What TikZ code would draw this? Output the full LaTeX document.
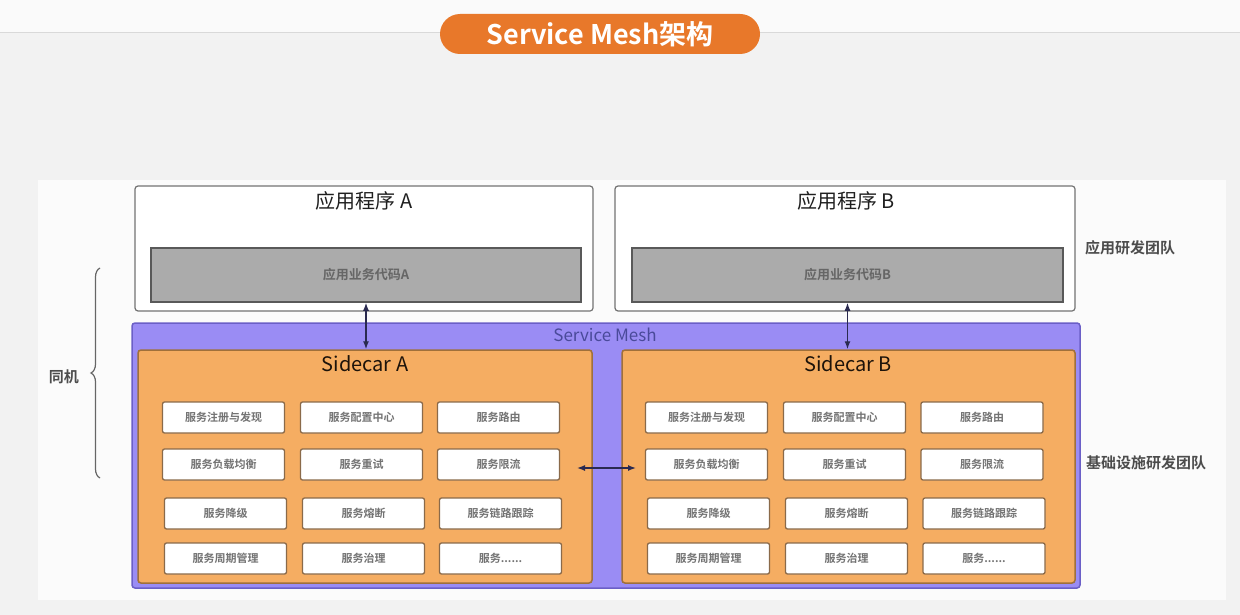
\documentclass[tikz,border=0pt]{standalone}
\usepackage{fontspec}
\setmainfont{Noto Sans CJK SC}[BoldFont={Noto Sans CJK SC Bold}]
\usetikzlibrary{arrows.meta,decorations.pathreplacing}
\definecolor{bgray}{HTML}{F2F2F2}
\definecolor{titleor}{HTML}{E8782A}
\definecolor{meshfill}{HTML}{9A8CF4}
\definecolor{meshdraw}{HTML}{6B5FC7}
\definecolor{carfill}{HTML}{F5AD62}
\definecolor{cardraw}{HTML}{A0703A}
\definecolor{codegray}{HTML}{ABABAB}
\definecolor{svcdraw}{HTML}{8A6A4A}
\definecolor{arrcol}{HTML}{2A2A50}
\definecolor{meshtext}{HTML}{4A4A9A}
\newcommand\svcmoretext{服务.\kern0pt.\kern0pt.\kern0pt.\kern0pt.\kern0pt.}
\begin{document}
\begin{tikzpicture}[x=1pt,y=-1pt,
  appbox/.style={draw=black!55, fill=white, rounded corners=3pt, line width=1.2pt, inner sep=0pt},
  codebox/.style={draw=black!65, fill=codegray, line width=1.5pt, inner sep=0pt, font=\bfseries\fontsize{13}{15}\selectfont, text=black!60},
  apptitle/.style={font=\fontsize{20}{22}\selectfont, text=black!88, inner sep=0pt},
  meshbox/.style={draw=meshdraw, fill=meshfill, rounded corners=3pt, line width=1.5pt, inner sep=0pt},
  carbox/.style={draw=cardraw, fill=carfill, rounded corners=3pt, line width=1.5pt, inner sep=0pt},
  cartitle/.style={font=\fontsize{20}{22}\selectfont, text=black!85!brown, inner sep=0pt},
  svc/.style={draw=svcdraw, fill=white, rounded corners=2pt, line width=1.3pt, inner sep=0pt, minimum width=122pt, minimum height=31pt, font=\bfseries\fontsize{11}{13}\selectfont, text=black!55},
  sidelabel/.style={font=\bfseries\fontsize{15}{17}\selectfont, text=black!70, inner sep=0pt},
  arr/.style={{Latex[length=8pt,width=6pt]}-{Latex[length=8pt,width=6pt]}, draw=arrcol, line width=1.4pt}
]
\useasboundingbox (0,0) rectangle (1240,615);
\fill[bgray] (0,0) rectangle (1240,615);
\fill[white!60!bgray] (0,0) rectangle (1240,33);
\draw[black!15, line width=1pt] (0,33) -- (1240,33);
\fill[white!70!bgray] (38,180) rectangle (1226,600);

% title
\node[fill=titleor, rounded corners=20pt, minimum width=320pt, minimum height=40pt, inner sep=0pt,
  text=white, font=\bfseries\fontsize{27}{30}\selectfont] (title) at (600,34) {Service Mesh架构};

% application boxes
\node[appbox, minimum width=458pt, minimum height=125pt] (appA) at (364,248.5) {};
\node[appbox, minimum width=460pt, minimum height=125pt] (appB) at (845,248.5) {};
\node[apptitle] (tA) at (364,201) {应用程序 A};
\node[apptitle] (tB) at (846,201) {应用程序 B};
\node[codebox, minimum width=430pt, minimum height=54pt] (codeA) at (366,275) {应用业务代码A};
\node[codebox, minimum width=431pt, minimum height=54pt] (codeB) at (847.5,275) {应用业务代码B};

% service mesh
\node[meshbox, minimum width=948pt, minimum height=265pt] (mesh) at (606,455.5) {};
\node[font=\fontsize{17}{19}\selectfont, text=meshtext, inner sep=0pt] (meshT) at (605,335) {Service Mesh};

% sidecars
\node[carbox, minimum width=454pt, minimum height=233pt] (sideA) at (365,466.5) {};
\node[carbox, minimum width=453pt, minimum height=233pt] (sideB) at (848.5,466.5) {};
\node[cartitle] (sAT) at (365,364) {Sidecar A};
\node[cartitle] (sBT) at (848,364) {Sidecar B};

% services
\foreach \r/\y/\dx/\la/\lb/\lc in {
  1/417.5/0/服务注册与发现/服务配置中心/服务路由,
  2/464.5/0/服务负载均衡/服务重试/服务限流,
  3/513.5/2/服务降级/服务熔断/服务链路跟踪,
  4/558.5/2/服务周期管理/服务治理/\svcmoretext}{
  \node[svc] (a\r1) at (223.5+\dx,\y) {\la};
  \node[svc] (a\r2) at (361.5+\dx,\y) {\lb};
  \node[svc] (a\r3) at (498.5+\dx,\y) {\lc};
  \node[svc] (b\r1) at (706.5+\dx,\y) {\la};
  \node[svc] (b\r2) at (844.5+\dx,\y) {\lb};
  \node[svc] (b\r3) at (982+\dx,\y) {\lc};
}

% arrows
\draw[arr] (codeA.south) -- (codeA.south |- sideA.north);
\draw[arr] (codeB.south) -- (codeB.south |- sideB.north);
\coordinate (hL) at (577,468);
\coordinate (hR) at (636,468);
\draw[arr] (hL) -- (hR);

% brace
\coordinate (brB) at (100,478);
\coordinate (brT) at (100,268);
\draw[black!60, line width=1.2pt, decorate, decoration={brace, amplitude=9pt}] (brB) -- (brT);
\node[sidelabel, anchor=east] (same) at (79,377) {同机};

% team labels
\node[sidelabel, anchor=west] (teamApp) at (1085,248) {应用研发团队};
\node[sidelabel, anchor=west] (teamInfra) at (1086,463) {基础设施研发团队};
\end{tikzpicture}
\end{document}
